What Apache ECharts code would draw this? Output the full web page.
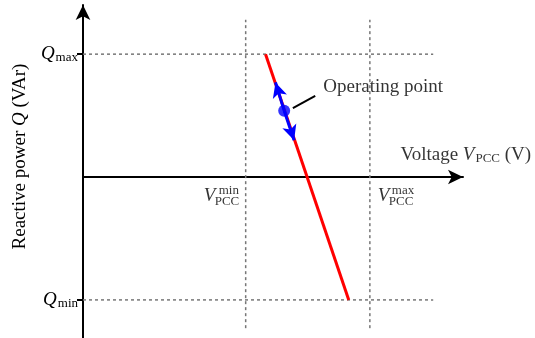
<!DOCTYPE html>
<html>
<head>
<meta charset="utf-8">
<script src="https://cdn.jsdelivr.net/npm/echarts@6/dist/echarts.min.js"></script>
<style>
html, body { margin: 0; padding: 0; background: #fff; }
#main { width: 535px; height: 338px; }
</style>
</head>
<body>
<div id="main"></div>
<script>
// Q/V droop characteristic (normalised units)
var qLimits = [-1, 1];            // Qmin, Qmax
var qLimitNames = ['min', 'max'];
var vLimits = [1.31, 2.31];       // VPCC min, max
var vLimitNames = ['min', 'max'];
var droopV = [1.47, 2.14];
var droopQ = [1, -1];
var operatingPoint = [1.62, 0.54];
var moveUp = [1.55, 0.77];
var moveDown = [1.70, 0.30];
var leaderLine = [[1.69, 0.56], [1.87, 0.66]];
var qLineSpan = [0, 2.82];        // extent of the dashed Q limit lines
var vLineSpan = [-1.23, 1.28];    // extent of the dashed V limit lines

var serif = 'Liberation Serif';
var rich = {
    n: { fontFamily: serif, fontSize: 19, color: '#000' },
    i: { fontFamily: serif, fontSize: 19, fontStyle: 'italic', color: '#000' },
    sub: { fontFamily: serif, fontSize: 13, color: '#000', padding: [7, 0, 0, 1] },
    s: { fontFamily: serif, fontSize: 13, color: '#000' }
};

// text annotations, anchored in data coordinates (+ pixel nudge)
var notes = [
    { value: [1.935, 0.73], text: '{n|Operating point}', dx: 0, dy: 0 },
    { value: [2.556, 0.18], text: '{n|Voltage }{i|V}{sub|PCC}{n| (V)}', dx: 0, dy: 0 }
];
// V_PCC^min to the left of its line, V_PCC^max to the right
vLimits.forEach(function (v, k) {
    var x0 = k === 0 ? -42 : 8;
    notes.push({ value: [v, -0.154], text: '{i|V}', dx: x0, dy: 0 });
    notes.push({ value: [v, -0.154], text: '{s|PCC}', dx: x0 + 11, dy: 6 });
    notes.push({ value: [v, -0.154], text: '{s|' + vLimitNames[k] + '}', dx: x0 + (k === 0 ? 15 : 14), dy: -5.5 });
});

var chart = echarts.init(document.getElementById('main'));

function dashed(data) {
    return {
        type: 'line', data: data, symbol: 'none', silent: true,
        lineStyle: { color: '#777', width: 1.5, type: [3, 3] }
    };
}

var series = [];
qLimits.forEach(function (q) {
    series.push(dashed([[qLineSpan[0], q], [qLineSpan[1], q]]));
});
vLimits.forEach(function (v) {
    series.push(dashed([[v, vLineSpan[0]], [v, vLineSpan[1]]]));
});
series.push({
    type: 'line', symbol: 'none', silent: true,
    data: droopV.map(function (v, k) { return [v, droopQ[k]]; }),
    lineStyle: { color: '#ff0000', width: 3 }, z: 3
});
series.push({
    type: 'line', symbol: 'none', silent: true, data: leaderLine,
    lineStyle: { color: '#000', width: 2 }, z: 3
});
series.push({
    type: 'scatter', data: [], z: 4,
    markLine: {
        silent: true, animation: false,
        symbol: ['none', 'arrow'], symbolSize: [11, 15],
        label: { show: false },
        lineStyle: { color: '#0000ff', width: 3, type: 'solid' },
        data: [
            [{ coord: operatingPoint }, { coord: moveUp }],
            [{ coord: operatingPoint }, { coord: moveDown }]
        ]
    }
});
series.push({
    type: 'scatter', data: [operatingPoint], symbolSize: 12, z: 5,
    itemStyle: { color: '#0000ff' }
});
series.push({
    type: 'scatter', symbolSize: 0, silent: true, z: 6,
    data: notes.map(function (d) {
        return {
            value: d.value,
            label: {
                show: true, position: [d.dx, d.dy], align: 'left', verticalAlign: 'middle',
                formatter: d.text, rich: rich
            }
        };
    })
});

chart.setOption({
    animation: false,
    grid: { left: 83, right: 72, top: 5, bottom: 0, outerBoundsMode: 'none' },
    xAxis: {
        type: 'value', min: 0, max: 3.06,
        splitLine: { show: false }, axisTick: { show: false }, axisLabel: { show: false },
        axisLine: {
            onZero: true, symbol: ['none', 'arrow'], symbolSize: [11, 15],
            lineStyle: { color: '#000', width: 2 }
        }
    },
    yAxis: {
        type: 'value', min: -1.31, max: 1.4,
        splitLine: { show: false },
        axisLine: {
            onZero: true, symbol: ['none', 'arrow'], symbolSize: [11, 15],
            lineStyle: { color: '#000', width: 2 }
        },
        axisTick: { show: true, customValues: qLimits, length: 6, lineStyle: { color: '#000', width: 2 } },
        axisLabel: {
            customValues: qLimits, margin: 5,
            formatter: function (v) { return '{i|Q}{sub|' + qLimitNames[qLimits.indexOf(v)] + '}'; },
            rich: rich
        },
        name: '{n|Reactive power }{i|Q}{n| (VAr)}',
        nameLocation: 'middle', nameGap: 52, nameRotate: 90,
        nameTextStyle: { rich: rich, padding: [0, 0, 0, 30] }
    },
    series: series
});
</script>
</body>
</html>
